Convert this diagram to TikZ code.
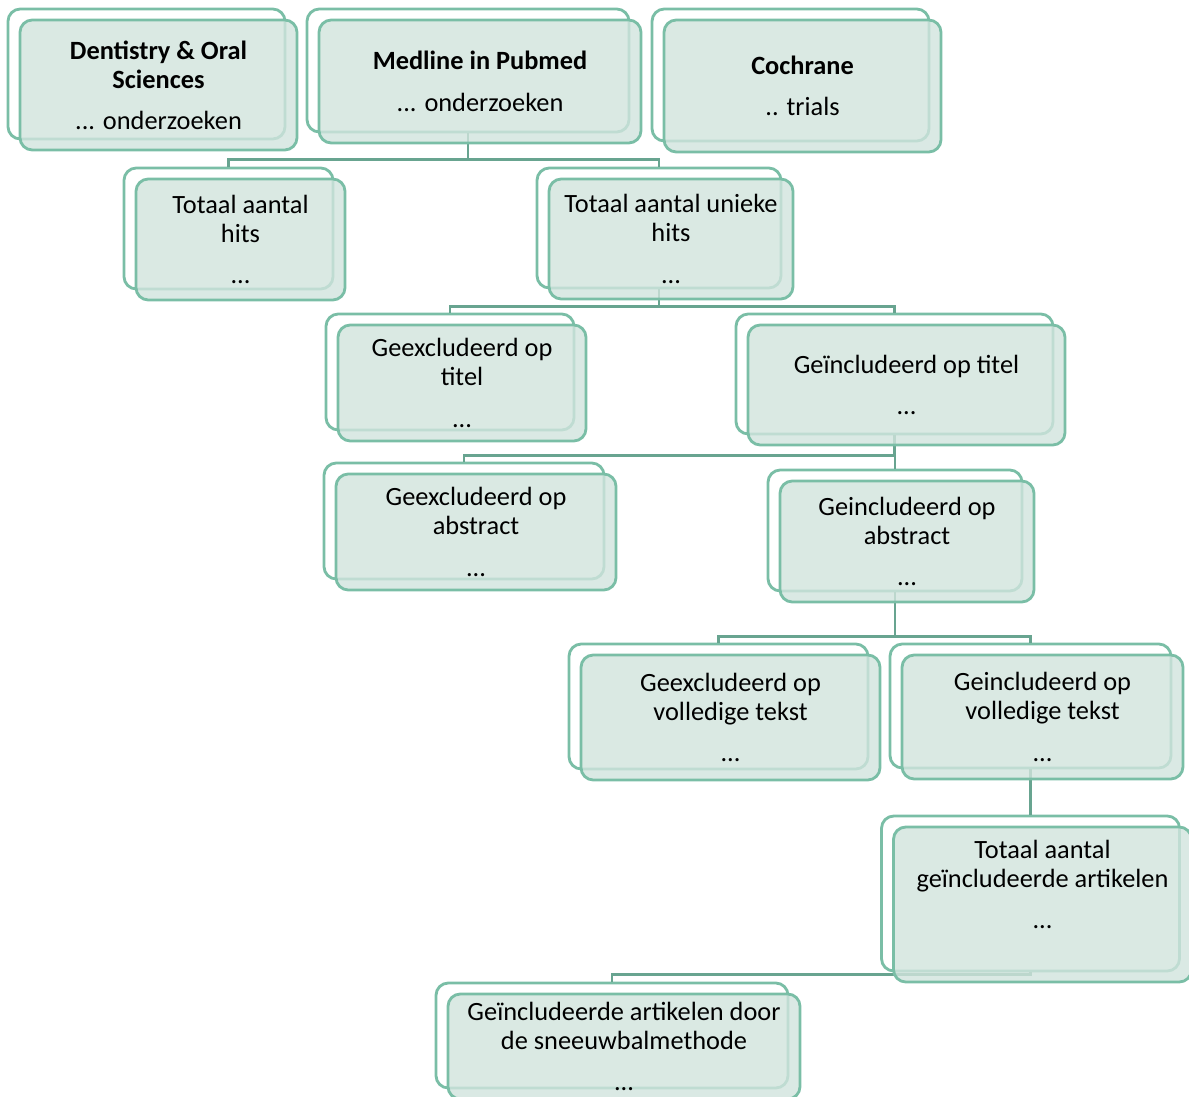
\documentclass[tikz,border=0pt]{standalone}
\usepackage{fontspec}
\setmainfont{Carlito}
\usepackage{tikz}
\definecolor{boxline}{RGB}{122,190,166}
\definecolor{boxfill}{RGB}{209,228,221}
\definecolor{linkline}{RGB}{104,164,144}
\tikzset{backbox/.style={draw=boxline, line width=1.6pt, fill=white, rounded corners=7pt},
frontbox/.style={draw=boxline, line width=1.6pt, fill=boxfill, fill opacity=0.8, text opacity=1, rounded corners=7pt, align=center, font=\fontsize{15}{16.5}\selectfont},
%size of a box in pixels
sz/.style 2 args={minimum width=#1*0.02cm, minimum height=#2*0.02cm},
link/.style={draw=linkline, line width=1.4pt}}

\begin{document}
\begin{tikzpicture}[x=0.02cm,y=-0.02cm]
\useasboundingbox (0,0) rectangle (1189,1097);

% back boxes
\node[backbox,sz={277}{130}] (dentB) at (146.5,74) {};
\node[backbox,sz={322}{123}] (medB) at (468,70.5) {};
\node[backbox,sz={277}{132}] (cochB) at (790.5,75) {};
\node[backbox,sz={209}{121}] (hitsB) at (228.5,228.5) {};
\node[backbox,sz={244}{120}] (uniekB) at (659,228) {};
\node[backbox,sz={248}{116}] (exTitelB) at (450,372) {};
\node[backbox,sz={317}{120}] (inTitelB) at (894.5,374) {};
\node[backbox,sz={280}{116}] (exAbsB) at (464,521) {};
\node[backbox,sz={254}{121}] (inAbsB) at (895,530.5) {};
\node[backbox,sz={299}{125}] (exVolB) at (718.5,706.5) {};
\node[backbox,sz={281}{124}] (inVolB) at (1030.5,706) {};
\node[backbox,sz={298}{155}] (totaalB) at (1030.5,893.5) {};
\node[backbox,sz={352}{105}] (sneeuwB) at (612,1035.5) {};

% links
\draw[link] (medB.south) -- ++(0,26) -| (hitsB.north);
\draw[link] (medB.south) -- ++(0,26) -| (uniekB.north);
\draw[link] (uniekB.south) -- ++(0,17) -| (exTitelB.north);
\draw[link] (uniekB.south) -- ++(0,17) -| (inTitelB.north);
\draw[link] (inTitelB.south) -- ++(0,20) -| (exAbsB.north);
\draw[link] (inTitelB.south) -- ++(0,20) -| (inAbsB.north);
\draw[link] (inAbsB.south) -- ++(0,44) -| (exVolB.north);
\draw[link] (inAbsB.south) -- ++(0,44) -| (inVolB.north);
\draw[link] (inVolB.south) -- (totaalB.north);
\draw[link] (totaalB.south) -- ++(0,2) -| (sneeuwB.north);

% front boxes
\node[frontbox,sz={277}{130}] (dent) at ([shift={(12,11)}]dentB) {\textbf{Dentistry \& Oral}\\\textbf{Sciences}\\[7pt]... onderzoeken};
\node[frontbox,sz={322}{123}] (med) at ([shift={(12,11)}]medB) {\textbf{Medline in Pubmed}\\[7pt]... onderzoeken};
\node[frontbox,sz={277}{132}] (coch) at ([shift={(12,11)}]cochB) {\textbf{Cochrane}\\[7pt].. trials};
\node[frontbox,sz={209}{121}] (hits) at ([shift={(12,11)}]hitsB) {Totaal aantal\\hits\\[7pt]...};
\node[frontbox,sz={244}{120}] (uniek) at ([shift={(12,11)}]uniekB) {Totaal aantal unieke\\hits\\[7pt]...};
\node[frontbox,sz={248}{116}] (exTitel) at ([shift={(12,11)}]exTitelB) {Geexcludeerd op\\titel\\[7pt]...};
\node[frontbox,sz={317}{120}] (inTitel) at ([shift={(12,11)}]inTitelB) {Geïncludeerd op titel\\[7pt]...};
\node[frontbox,sz={280}{116}] (exAbs) at ([shift={(12,11)}]exAbsB) {Geexcludeerd op\\abstract\\[7pt]...};
\node[frontbox,sz={254}{121}] (inAbs) at ([shift={(12,11)}]inAbsB) {Geincludeerd op\\abstract\\[7pt]...};
\node[frontbox,sz={299}{125}] (exVol) at ([shift={(12,11)}]exVolB) {Geexcludeerd op\\volledige tekst\\[7pt]...};
\node[frontbox,sz={281}{124}] (inVol) at ([shift={(12,11)}]inVolB) {Geincludeerd op\\volledige tekst\\[7pt]...};
\node[frontbox,sz={298}{155},text depth=23pt] (totaal) at ([shift={(12,11)}]totaalB) {Totaal aantal\\geïncludeerde artikelen\\[7pt]...};
\node[frontbox,sz={352}{105}] (sneeuw) at ([shift={(12,11)}]sneeuwB) {Geïncludeerde artikelen door\\de sneeuwbalmethode\\[7pt]...};

\end{tikzpicture}
\end{document}
